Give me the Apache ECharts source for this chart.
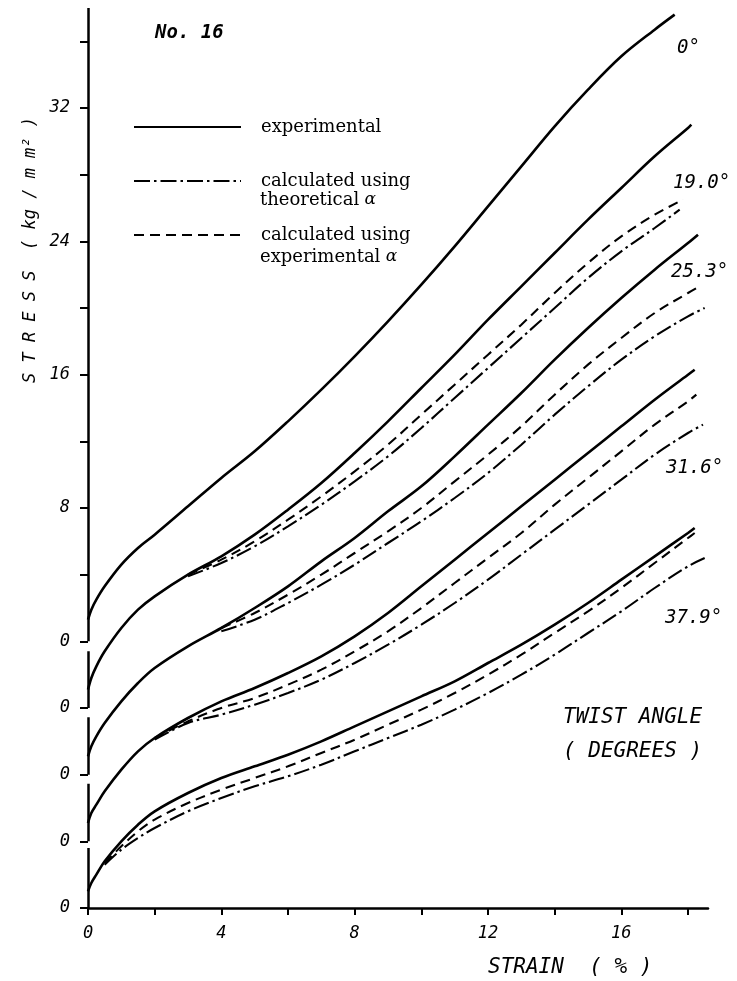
<!DOCTYPE html>
<html><head><meta charset="utf-8">
<script src="https://cdn.jsdelivr.net/npm/echarts@6/dist/echarts.min.js"></script>
<style>html,body{margin:0;padding:0;background:#fff}#c{width:737px;height:981px}</style>
</head><body><div id="c"></div>
<script>
// ---- data (strain %, stress kg/mm^2 measured from each curve's own zero) ----
const twistAngles = ['0°', '19.0°', '25.3°', '31.6°', '37.9°'];
// each curve is drawn with its own zero shifted up by this many stress units
const zeroOffsets = [16, 12, 8, 4, 0];

// experimental (solid)
const strainExp0  = [0,0.1,0.25,0.5,1,1.5,2,3,4,5,6,7,8,9,10,11,12,13,14,15,16,17,17.6];
const stressExp0  = [1.3,1.9,2.5,3.3,4.6,5.6,6.4,8.1,9.8,11.4,13.2,15.1,17.1,19.2,21.4,23.7,26.1,28.5,30.9,33.1,35.1,36.7,37.6];
const strainExp19 = [0,0.1,0.25,0.5,1,1.5,2,3,4,5,6,7,8,9,10,11,12,13,14,15,16,17,18,18.1];
const stressExp19 = [1.1,1.8,2.5,3.4,4.8,5.9,6.7,8.0,9.1,10.4,11.9,13.5,15.3,17.2,19.2,21.2,23.3,25.3,27.3,29.3,31.2,33.1,34.8,35.0];
const strainExp25 = [0,0.1,0.25,0.5,1,1.5,2,3,4,5,6,7,8,9,10,11,12,13,14,15,16,17,18,18.3];
const stressExp25 = [1.1,1.7,2.3,3.1,4.4,5.5,6.4,7.7,8.8,10.0,11.3,12.8,14.2,15.8,17.3,19.1,21.0,22.9,24.9,26.8,28.6,30.3,31.9,32.4];
const strainExp31 = [0,0.1,0.25,0.5,1,1.5,2,3,4,5,6,7,8,9,10,11,12,13,14,15,16,17,18,18.2];
const stressExp31 = [1.1,1.7,2.2,3.0,4.3,5.4,6.2,7.4,8.4,9.2,10.1,11.1,12.3,13.7,15.3,16.9,18.5,20.1,21.7,23.3,24.9,26.5,28.0,28.3];
const strainExp37 = [0,0.1,0.25,0.5,1,1.5,2,3,4,5,6,7,8,9,10,11,12,13,14,15,16,17,18,18.2];
const stressExp37 = [1.0,1.5,2.0,2.8,4.0,5.0,5.8,6.9,7.8,8.5,9.2,10.0,10.9,11.8,12.7,13.6,14.7,15.8,17.0,18.3,19.7,21.1,22.5,22.8];

// calculated using experimental alpha (dashed)
const strainCe19 = [3,4,5,6,7,8,9,10,11,12,13,14,15,16,17,17.85];
const stressCe19 = [8.0,8.9,10.0,11.3,12.7,14.2,15.8,17.6,19.4,21.2,23.0,24.9,26.7,28.3,29.6,30.5];
const strainCe25 = [4,5,6,7,8,9,10,11,12,13,14,15,16,17,18,18.35];
const stressCe25 = [8.8,9.7,10.8,12.0,13.3,14.6,16.0,17.6,19.2,20.9,22.8,24.6,26.2,27.7,28.9,29.3];
const strainCe31 = [2,3,4,5,6,7,8,9,10,11,12,13,14,15,16,17,18,18.25];
const stressCe31 = [6.2,7.2,8.0,8.6,9.4,10.3,11.4,12.6,14.0,15.5,17.0,18.5,20.2,21.8,23.4,25.0,26.4,26.8];
const strainCe37 = [0.5,1,1.5,2,3,4,5,6,7,8,9,10,11,12,13,14,15,16,17,18,18.2];
const stressCe37 = [2.7,3.7,4.6,5.3,6.3,7.1,7.8,8.5,9.3,10.1,11.0,11.9,12.9,14.0,15.2,16.5,17.8,19.2,20.7,22.2,22.5];

// calculated using theoretical alpha (dash-dot)
const strainCt19 = [3,4,5,6,7,8,9,10,11,12,13,14,15,16,17,17.75];
const stressCt19 = [7.9,8.7,9.7,10.9,12.2,13.6,15.1,16.8,18.6,20.4,22.2,24.0,25.8,27.4,28.8,29.9];
const strainCt25 = [4,5,6,7,8,9,10,11,12,13,14,15,16,17,18,18.5];
const stressCt25 = [8.6,9.3,10.3,11.4,12.6,13.9,15.2,16.6,18.1,19.8,21.6,23.3,24.9,26.3,27.5,28.0];
const strainCt31 = [2,3,4,5,6,7,8,9,10,11,12,13,14,15,16,17,18,18.45];
const stressCt31 = [6.1,7.1,7.6,8.2,8.9,9.7,10.7,11.8,13.0,14.3,15.7,17.2,18.7,20.2,21.7,23.2,24.5,25.0];
const strainCt37 = [0.5,1,1.5,2,3,4,5,6,7,8,9,10,11,12,13,14,15,16,17,18,18.5];
const stressCt37 = [2.6,3.5,4.2,4.8,5.8,6.6,7.3,7.9,8.6,9.4,10.2,11.0,11.9,12.9,14.0,15.2,16.5,17.8,19.2,20.5,21.0];

// axis ticks / labels
const xTickValues = [0,2,4,6,8,10,12,14,16,18];
const xLabelValues = [0,4,8,12,16];
const yTickValues = [0,4,8,12,16,20,24,28,32,36,40,44,48,52];
const yLabelValues = [0,4,8,12,16,24,32,40,48];
const yLabelTexts = ['0','0','0','0','0','8','16','24','32'];
// broken stress axis: pieces of the axis line (gap just below each shifted zero)
const yAxisPieces = [[0,3.6],[4,7.45],[8,11.45],[12,15.4],[16,54]];

// ---- chart ----
const MONO = '"DejaVu Sans Mono"';
const SERIF = '"DejaVu Serif"';
const chart = echarts.init(document.getElementById('c'), null, {renderer: 'canvas'});
const pairs = (xs, ys, off) => xs.map((x, i) => [x, +(ys[i] + off).toFixed(3)]);

const solidStyle = {color: '#000', width: 2.6, type: 'solid'};
const dashStyle = {color: '#000', width: 2.1, type: [10, 6]};
const dashDotStyle = {color: '#000', width: 2.1, type: [16, 4, 2.5, 4]};

function curve(name, xs, ys, off, style) {
  return {
    type: 'line', name: name, data: pairs(xs, ys, off),
    showSymbol: false, symbol: 'none', smooth: 0.35,
    color: '#000', itemStyle: {color: '#000'},
    lineStyle: style, silent: true, z: 3, clip: false
  };
}

const series = [
  curve('experimental', strainExp0, stressExp0, zeroOffsets[0], solidStyle),
  curve('experimental', strainExp19, stressExp19, zeroOffsets[1], solidStyle),
  curve('experimental', strainExp25, stressExp25, zeroOffsets[2], solidStyle),
  curve('experimental', strainExp31, stressExp31, zeroOffsets[3], solidStyle),
  curve('experimental', strainExp37, stressExp37, zeroOffsets[4], solidStyle),
  curve('theoretical α', strainCt19, stressCt19, zeroOffsets[1], dashDotStyle),
  curve('theoretical α', strainCt25, stressCt25, zeroOffsets[2], dashDotStyle),
  curve('theoretical α', strainCt31, stressCt31, zeroOffsets[3], dashDotStyle),
  curve('theoretical α', strainCt37, stressCt37, zeroOffsets[4], dashDotStyle),
  curve('experimental α', strainCe19, stressCe19, zeroOffsets[1], dashStyle),
  curve('experimental α', strainCe25, stressCe25, zeroOffsets[2], dashStyle),
  curve('experimental α', strainCe31, stressCe31, zeroOffsets[3], dashStyle),
  curve('experimental α', strainCe37, stressCe37, zeroOffsets[4], dashStyle),
  {
    type: 'lines', coordinateSystem: 'cartesian2d', silent: true, z: 4,
    lineStyle: {color: '#000', width: 2.5, opacity: 1},
    data: yAxisPieces.map(p => ({coords: [[0, p[0]], [0, p[1]]]}))
  }
];

const txt = (text, x, y, font, extra) => ({
  type: 'text', x: x, y: y, silent: true,
  style: Object.assign({text: text, font: font, fill: '#000', verticalAlign: 'middle', textAlign: 'left'}, extra || {})
});

const labelFont = 'italic 19px ' + MONO;
const option = {
  backgroundColor: '#fff',
  animation: false,
  grid: {left: 88, top: 8, width: 620, height: 900},
  xAxis: {
    type: 'value', min: 0, max: 18.6,
    axisLine: {show: true, lineStyle: {color: '#000', width: 2.5}},
    axisTick: {show: true, customValues: xTickValues, length: 7, lineStyle: {color: '#000', width: 2}},
    axisLabel: {customValues: xLabelValues, fontFamily: MONO, fontStyle: 'italic', fontSize: 17, color: '#000', margin: 17},
    splitLine: {show: false}
  },
  yAxis: {
    type: 'value', min: 0, max: 54,
    axisLine: {show: false},
    axisTick: {show: true, customValues: yTickValues, length: 8, lineStyle: {color: '#000', width: 2}},
    axisLabel: {
      customValues: yLabelValues, fontFamily: MONO, fontStyle: 'italic', fontSize: 17, color: '#000', margin: 18,
      formatter: v => { const i = yLabelValues.indexOf(v); return i >= 0 ? yLabelTexts[i] : ''; }
    },
    splitLine: {show: false}
  },
  legend: {
    left: 133, top: 117, padding: 0, orient: 'vertical', itemWidth: 107, itemHeight: 14, itemGap: 34,
    selectedMode: false,
    itemStyle: {opacity: 0},
    data: ['experimental', 'theoretical α', 'experimental α'],
    formatter: n => n === 'experimental' ? 'experimental' : 'calculated using',
    textStyle: {fontFamily: SERIF, fontSize: 18, color: '#000', padding: [0, 0, 0, 15], lineHeight: 20}
  },
  graphic: [
    txt('No. 16', 155, 33, 'italic bold 19px ' + MONO),
    {
      type: 'text', x: 260, y: 200, silent: true,
      style: {text: '{n|theoretical}{a| α}', verticalAlign: 'middle', fill: '#000',
              rich: {n: {font: '18px ' + SERIF, fill: '#000'}, a: {font: 'italic 17px ' + SERIF, fill: '#000'}}}
    },
    {
      type: 'text', x: 260, y: 257, silent: true,
      style: {text: '{n|experimental}{a| α}', verticalAlign: 'middle', fill: '#000',
              rich: {n: {font: '18px ' + SERIF, fill: '#000'}, a: {font: 'italic 17px ' + SERIF, fill: '#000'}}}
    },
    txt(twistAngles[0], 677, 48, labelFont),
    txt(twistAngles[1], 673, 183, labelFont),
    txt(twistAngles[2], 671, 272, labelFont),
    txt(twistAngles[3], 666, 468, labelFont),
    txt(twistAngles[4], 665, 618, labelFont),
    txt('TWIST ANGLE', 563, 718, 'italic 21px ' + MONO),
    txt('( DEGREES )', 563, 752, 'italic 21px ' + MONO),
    txt('STRAIN  ( % )', 488, 968, 'italic 21px ' + MONO),
    {
      type: 'text', x: 31, y: 250, rotation: Math.PI / 2, silent: true,
      style: {text: 'S T R E S S  ( kg / m m² )', font: 'italic 17px ' + MONO, fill: '#000',
              textAlign: 'center', verticalAlign: 'middle'}
    }
  ],
  series: series
};
chart.setOption(option);
</script>
</body></html>
